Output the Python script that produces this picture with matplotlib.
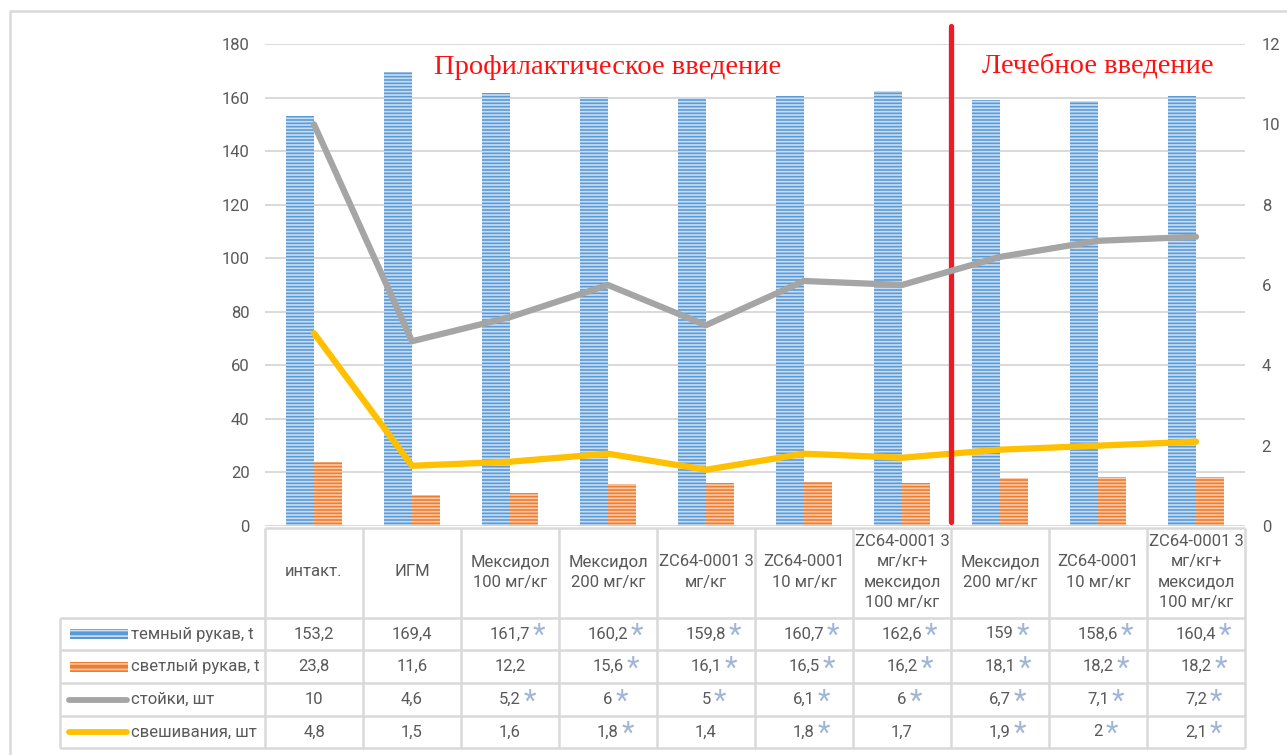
import matplotlib
matplotlib.use("Agg")
import numpy as np
import matplotlib.pyplot as plt
from matplotlib.transforms import blended_transform_factory
from matplotlib.patches import Rectangle
from matplotlib.lines import Line2D

# ---- data ----
groups = ["интакт.", "ИГМ", "Мексидол\n100 мг/кг", "Мексидол\n200 мг/кг",
          "ZC64-0001 3\nмг/кг", "ZC64-0001\n10 мг/кг",
          "ZC64-0001 3\nмг/кг+\nмексидол\n100 мг/кг",
          "Мексидол\n200 мг/кг", "ZC64-0001\n10 мг/кг",
          "ZC64-0001 3\nмг/кг+\nмексидол\n100 мг/кг"]
dark_arm = [153.2, 169.4, 161.7, 160.2, 159.8, 160.7, 162.6, 159.0, 158.6, 160.4]
light_arm = [23.8, 11.6, 12.2, 15.6, 16.1, 16.5, 16.2, 18.1, 18.2, 18.2]
rearing = [10, 4.6, 5.2, 6, 5, 6.1, 6, 6.7, 7.1, 7.2]
hanging = [4.8, 1.5, 1.6, 1.8, 1.4, 1.8, 1.7, 1.9, 2, 2.1]

series_names = ["темный рукав, t", "светлый рукав, t", "стойки, шт", "свешивания, шт"]
# significance marks per table row
star_dark = [0, 0, 1, 1, 1, 1, 1, 1, 1, 1]
star_light = [0, 0, 0, 1, 1, 1, 1, 1, 1, 1]
star_rear = [0, 0, 1, 1, 1, 1, 1, 1, 1, 1]
star_hang = [0, 0, 0, 1, 0, 1, 0, 1, 1, 1]

left_ticks = np.arange(0, 181, 20)
right_ticks = np.arange(0, 13, 2)

BLUE, BLUE_H = "#5b9bd5", "#c9def3"
ORANGE, ORANGE_H = "#ed7d31", "#f9cbaa"
GRAY, YELLOW = "#a5a5a5", "#ffc000"
TXT, GRID = "#595959", "#d9d9d9"
FONT = ["Roboto", "DejaVu Sans"]
FS = 12

plt.rcParams["font.family"] = FONT
plt.rcParams["hatch.linewidth"] = 1.2

W, H = 1287, 755
fig = plt.figure(figsize=(W / 100, H / 100), dpi=100)

def fx(px):
    return px / W

def fy(py):
    return 1 - py / H

ax = fig.add_axes([fx(265), fy(526), fx(1245) - fx(265), fy(44) - fy(526)])
ax2 = ax.twinx()

x = np.arange(len(groups))
bw = 0.285
ax.bar(x - bw / 2, dark_arm, bw, facecolor=BLUE, edgecolor=BLUE_H, linewidth=0,
       hatch="-----", zorder=2)
ax.bar(x + bw / 2, light_arm, bw, facecolor=ORANGE, edgecolor=ORANGE_H, linewidth=0,
       hatch="-----", zorder=2)

ax.set_xlim(-0.5, len(groups) - 0.5)
ax.set_ylim(0, 180)
ax.set_yticks(left_ticks)
ax.set_xticks([])
ax.grid(axis="y", color=GRID, linewidth=1.4)
ax.set_axisbelow(True)
ax.tick_params(axis="y", length=0, pad=11, labelsize=FS, labelcolor=TXT)
for s in ax.spines.values():
    s.set_visible(False)

ax2.set_ylim(0, 12)
ax2.set_yticks(right_ticks)
ax2.tick_params(axis="y", length=0, pad=12, labelsize=FS, labelcolor=TXT)
for s in ax2.spines.values():
    s.set_visible(False)

ax2.plot(x, hanging, color=YELLOW, lw=4.5, solid_capstyle="round", zorder=1)
ax2.plot(x, rearing, color=GRAY, lw=4.5, solid_capstyle="round", zorder=3)

# red separator between prophylactic and treatment groups
sep = 6.5
ax2.plot([sep, sep], [0.1, 12.45], color="#ed1c24", lw=3.8,
         solid_capstyle="round", clip_on=False, zorder=2)

ann = blended_transform_factory(ax.transData, fig.transFigure)
ax.text(3.0, fy(67), "Профилактическое введение", transform=ann,
        ha="center", va="center", color="#ff1010", fontsize=20.5,
        family="Liberation Serif")
ax.text(8.0, fy(66), "Лечебное введение", transform=ann,
        ha="center", va="center", color="#ff1010", fontsize=20.5,
        family="Liberation Serif")

# ---- data table under the plot ----
tr = blended_transform_factory(ax.transData, fig.transFigure)
row_y = [528, 618, 650, 683, 716, 748]  # pixel rows of the table
lkw = dict(color=GRID, lw=1.8, solid_capstyle="butt")

# horizontal lines
fig.add_artist(Line2D([-0.5, 9.5], [fy(row_y[0])] * 2, transform=tr, **lkw))
for py in row_y[1:]:
    fig.add_artist(Line2D([fx(60), fx(1245)], [fy(py)] * 2, transform=fig.transFigure, **lkw))
# vertical lines
for b in np.arange(-0.5, 10.5, 1.0):
    fig.add_artist(Line2D([b, b], [fy(row_y[0]), fy(row_y[-1])], transform=tr, **lkw))
fig.add_artist(Line2D([fx(60)] * 2, [fy(row_y[1]), fy(row_y[-1])], transform=fig.transFigure, **lkw))

# header
for i, g in enumerate(groups):
    fig.text(i, fy((row_y[0] + row_y[1]) / 2 - 1), g, transform=tr, ha="center", va="center",
             color=TXT, fontsize=FS, linespacing=1.45)

rows = [dark_arm, light_arm, rearing, hanging]
stars = [star_dark, star_light, star_rear, star_hang]

def fmt(v):
    return ("%g" % v).replace(".", ",")

for r, (vals, st) in enumerate(zip(rows, stars)):
    yc = fy((row_y[r + 1] + row_y[r + 2]) / 2)
    for i, v in enumerate(vals):
        t = fig.text(i, yc, fmt(v), transform=tr, ha="center", va="center",
                     color=TXT, fontsize=FS)
        if st[i]:
            ax.annotate("*", xy=(1, 0.5), xycoords=t, xytext=(2, -1.5),
                        textcoords="offset points", ha="left", va="center",
                        color="#9fb6d6", fontsize=21,
                        annotation_clip=False)
    # legend key + label
    if r == 0 or r == 1:
        fc, hc = (BLUE, BLUE_H) if r == 0 else (ORANGE, ORANGE_H)
        fig.add_artist(Rectangle((fx(70), yc - 5 / H), fx(58), 10 / H, transform=fig.transFigure,
                                 facecolor=fc, edgecolor=hc, linewidth=0, hatch="---"))
    else:
        fig.add_artist(Line2D([fx(69), fx(127)], [yc, yc], transform=fig.transFigure,
                              color=GRAY if r == 2 else YELLOW, lw=4.2, solid_capstyle="round"))
    fig.text(fx(131), yc, series_names[r], ha="left", va="center", color=TXT, fontsize=FS)

# outer chart border
fig.add_artist(Line2D([fx(10), fx(10), fx(1287)], [fy(755), fy(11), fy(11)],
                      transform=fig.transFigure, color=GRID, lw=1.8))

fig.savefig("out.png", dpi=100)
